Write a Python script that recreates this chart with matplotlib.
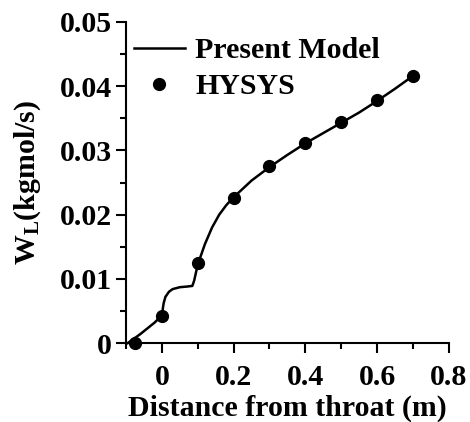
import numpy as np
import matplotlib
matplotlib.use("Agg")
import matplotlib.pyplot as plt
from matplotlib.ticker import MultipleLocator, FormatStrFormatter

plt.rcParams['font.family'] = 'Liberation Serif'
plt.rcParams['font.weight'] = 'bold'
plt.rcParams['mathtext.fontset'] = 'custom'
plt.rcParams['mathtext.rm'] = 'Liberation Serif:bold'
plt.rcParams['mathtext.default'] = 'rm'

# model curve
model_x = [-0.095, -0.08, -0.06, -0.04, -0.02, 0.0, 0.005, 0.01, 0.02, 0.03,
           0.05, 0.07, 0.085, 0.09, 0.1, 0.12, 0.14, 0.16, 0.18, 0.2,
           0.25, 0.3, 0.35, 0.4, 0.45, 0.5, 0.55, 0.6, 0.65, 0.7]
model_y = [0.0, 0.0006, 0.0014, 0.0023, 0.0032, 0.0043, 0.0062, 0.0072, 0.0080, 0.0084,
           0.0087, 0.0088, 0.0089, 0.0097, 0.0122, 0.0154, 0.0180, 0.0200, 0.0215, 0.0227,
           0.0253, 0.0274, 0.0293, 0.0311, 0.0327, 0.0343, 0.0359, 0.0377, 0.0396, 0.0416]

# HYSYS points
hysys_x = [-0.075, 0.0, 0.1, 0.2, 0.3, 0.4, 0.5, 0.6, 0.7]
hysys_y = [0.0, 0.0042, 0.0124, 0.0226, 0.0276, 0.0312, 0.0344, 0.0378, 0.0416]

fs = 21.5

fig = plt.figure(figsize=(4.7, 4.22), dpi=100)
ax = fig.add_axes([0.268, 0.187, 0.687, 0.761])

ax.plot(model_x, model_y, color='black', lw=1.8, label='Present Model', clip_on=False)
ax.plot(hysys_x, hysys_y, 'o', color='black', ms=8.5, label='HYSYS', clip_on=False,
        zorder=3)

ax.set_xlim(-0.1, 0.8)
ax.set_ylim(0, 0.05)
ax.xaxis.set_major_locator(MultipleLocator(0.2))
ax.xaxis.set_minor_locator(MultipleLocator(0.1))
ax.yaxis.set_major_locator(MultipleLocator(0.01))
ax.yaxis.set_minor_locator(MultipleLocator(0.005))
ax.xaxis.set_major_formatter(FormatStrFormatter('%g'))
ax.yaxis.set_major_formatter(FormatStrFormatter('%g'))

for s in ['top', 'right']:
    ax.spines[s].set_visible(False)
for s in ['left', 'bottom']:
    ax.spines[s].set_linewidth(1.5)

ax.tick_params(which='major', direction='out', length=7, width=1.5, labelsize=fs, pad=3)
ax.tick_params(axis='x', which='major', pad=8)
ax.tick_params(which='minor', direction='out', length=4.5, width=1.5)

ax.set_xlabel('Distance from throat (m)', fontsize=fs, fontweight='bold', labelpad=3)
ax.set_ylabel(r'W$_{L}$(kgmol/s)', fontsize=fs, fontweight='bold', labelpad=12)

ax.legend(loc='upper left', frameon=False, fontsize=fs, handlelength=1.7,
          handletextpad=0.35, borderaxespad=0.0, labelspacing=0.3,
          bbox_to_anchor=(-0.012, 0.99))

fig.savefig('out.png', dpi=100)
